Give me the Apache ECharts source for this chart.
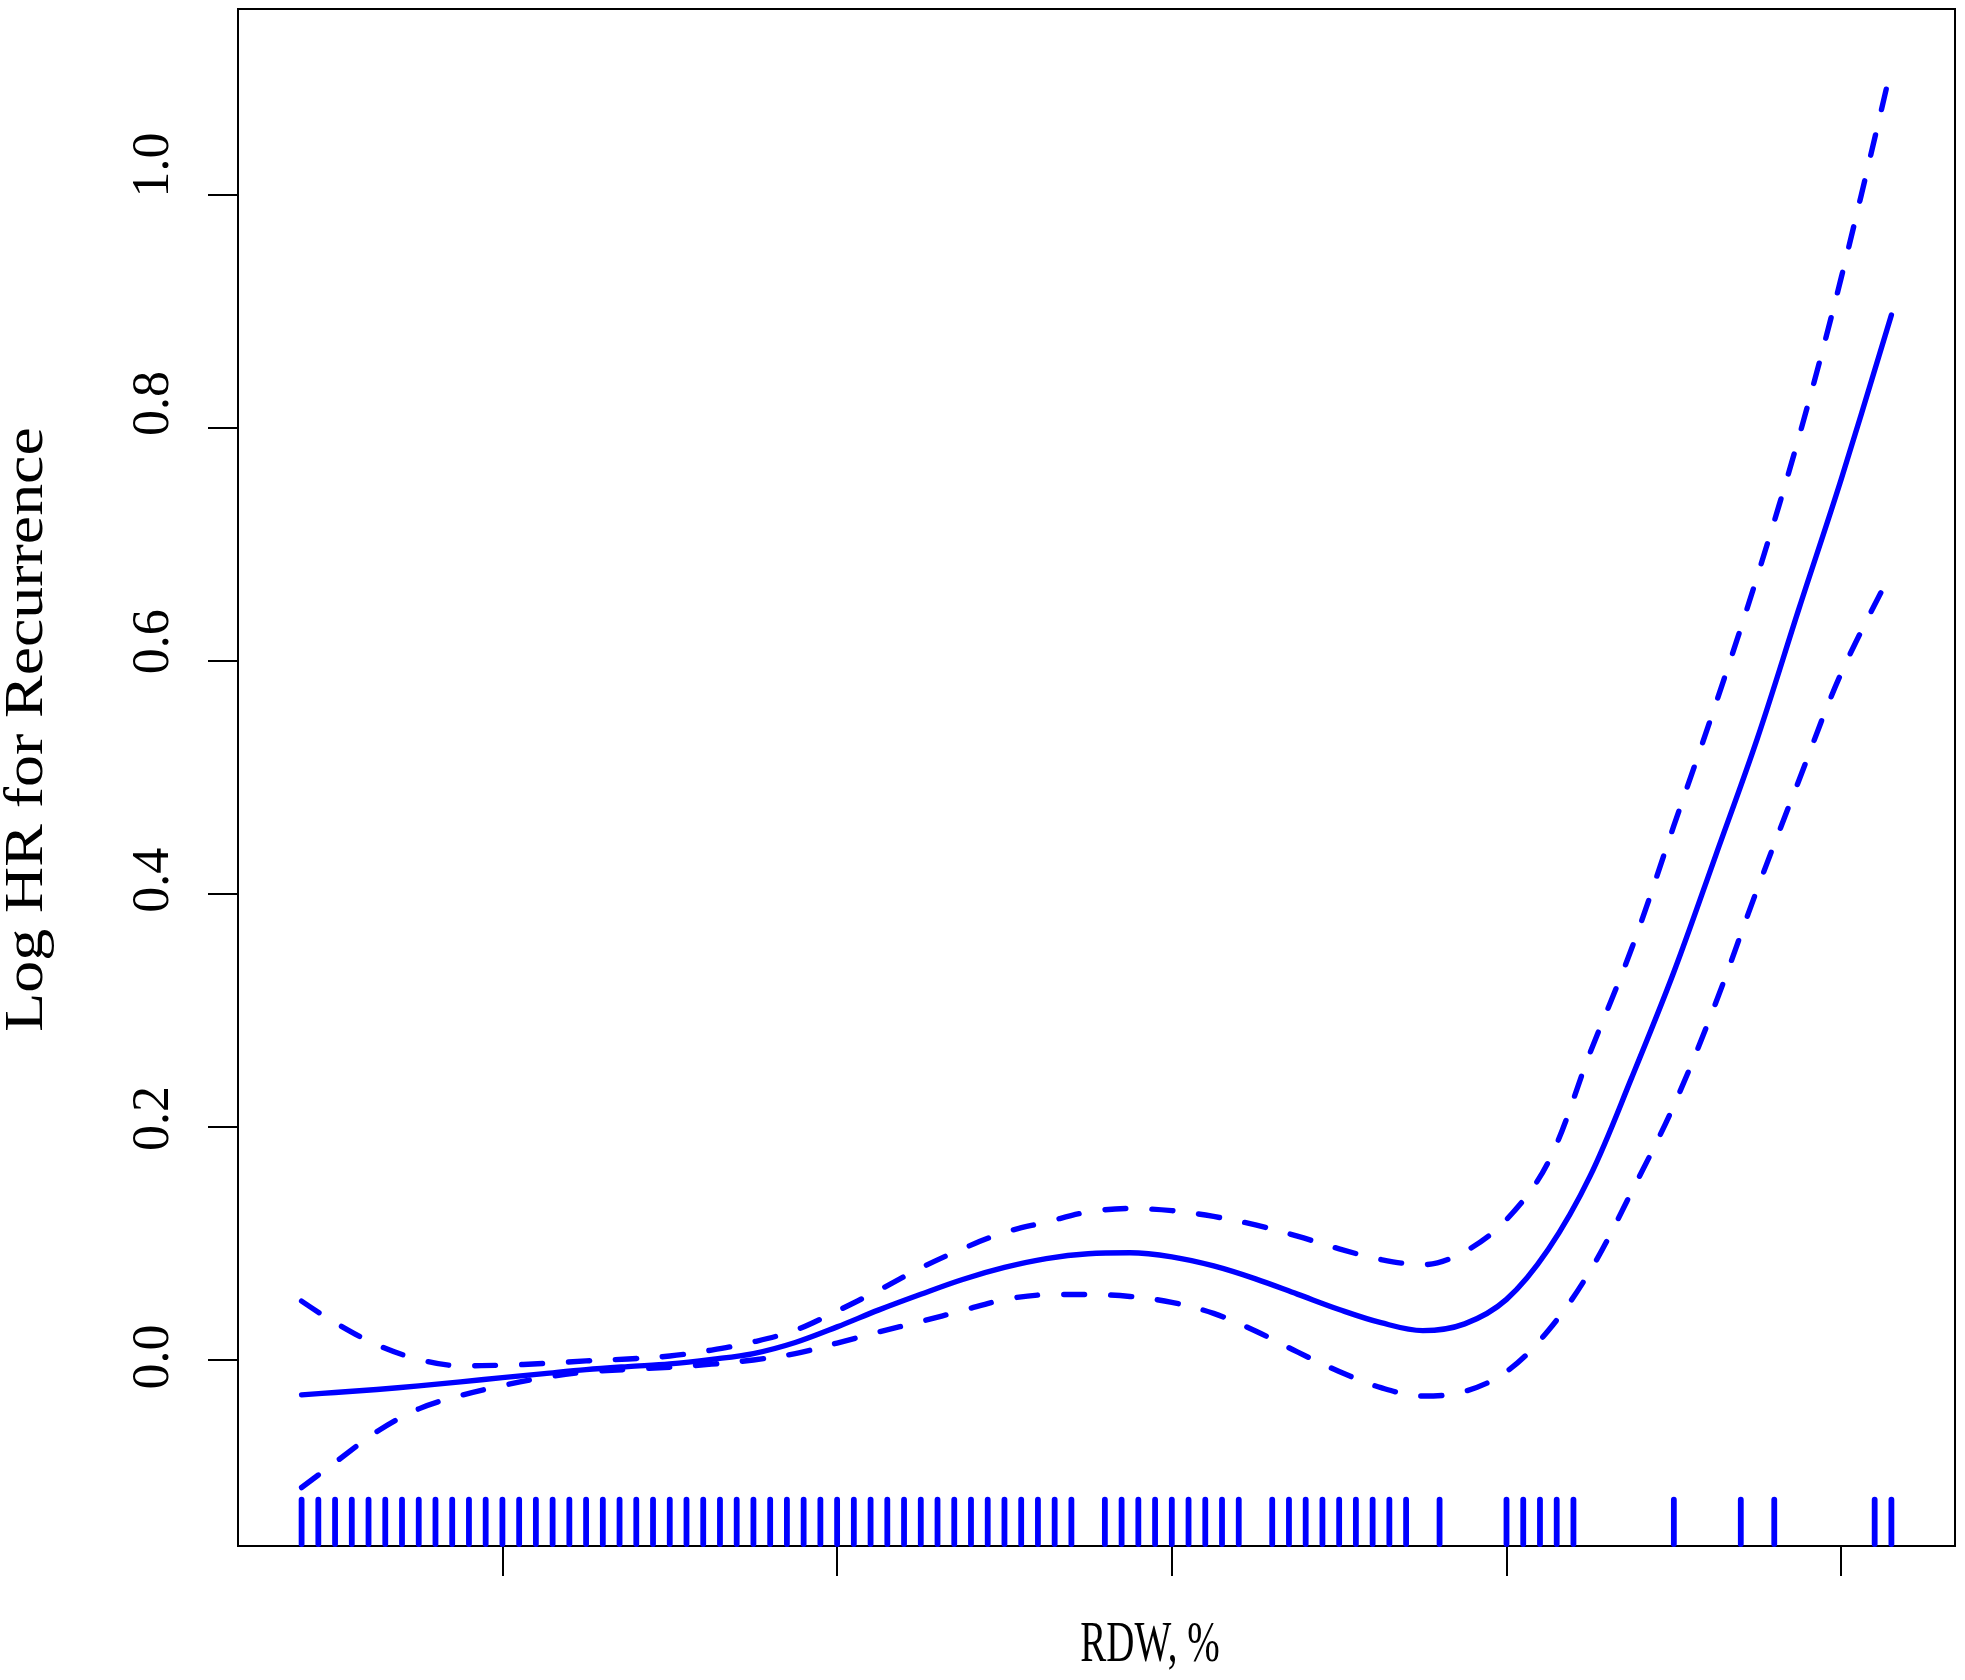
<!DOCTYPE html>
<html>
<head>
<meta charset="utf-8">
<script src="https://cdn.jsdelivr.net/npm/echarts@6/dist/echarts.min.js"></script>
<style>
html,body{margin:0;padding:0;background:#fff;}
#chart{width:1965px;height:1680px;}
</style>
</head>
<body>
<div id="chart"></div>
<script>
// ---- data ----
const rdwGrid = [10.8, 11.0, 11.25, 11.5, 11.75, 12.0, 12.25, 12.5, 12.75, 13.0, 13.25, 13.5, 13.75, 14.0, 14.25, 14.5, 14.75, 15.0, 15.25, 15.5, 15.75, 16.0, 16.25, 16.5, 16.75, 17.0, 17.25, 17.5, 17.75, 18.0, 18.25, 18.5, 18.75, 19.0, 19.25, 19.5, 19.75, 20.0, 20.3];
const logHrFit = [-0.030, -0.0279, -0.0253, -0.0222, -0.0188, -0.0152, -0.0117, -0.0083, -0.0057, -0.0034, 0.0005, 0.0055, 0.0150, 0.0284, 0.0430, 0.0564, 0.0691, 0.0794, 0.0870, 0.0912, 0.0920, 0.0885, 0.0807, 0.0696, 0.0565, 0.0433, 0.0320, 0.0252, 0.0310, 0.0520, 0.0950, 0.1580, 0.2430, 0.3330, 0.4330, 0.5340, 0.6460, 0.7560, 0.8970];
const logHrUpper = [0.0505, 0.0320, 0.0130, 0.0005, -0.0050, -0.0045, -0.0030, -0.0008, 0.0008, 0.0034, 0.0085, 0.0155, 0.0255, 0.0420, 0.0600, 0.0790, 0.0955, 0.1095, 0.1184, 0.1270, 0.1300, 0.1282, 0.1232, 0.1159, 0.1063, 0.0954, 0.0862, 0.0818, 0.0930, 0.1205, 0.1700, 0.2640, 0.3540, 0.4586, 0.5630, 0.6734, 0.7936, 0.9290, 1.1100];
const logHrLower = [-0.1095, -0.0880, -0.0615, -0.0420, -0.0305, -0.0220, -0.0150, -0.0104, -0.0081, -0.0062, -0.0036, 0.0000, 0.0055, 0.0145, 0.0241, 0.0330, 0.0425, 0.0518, 0.0560, 0.0562, 0.0545, 0.0495, 0.0400, 0.0249, 0.0069, -0.0099, -0.0238, -0.0310, -0.0270, -0.0100, 0.0253, 0.0765, 0.1450, 0.2185, 0.3064, 0.4048, 0.4985, 0.5896, 0.6760];
const rugValues = [10.8, 10.9, 11.0, 11.1, 11.2, 11.3, 11.4, 11.5, 11.6, 11.7, 11.8, 11.9, 12.0, 12.1, 12.2, 12.3, 12.4, 12.5, 12.6, 12.7, 12.8, 12.9, 13.0, 13.1, 13.2, 13.3, 13.4, 13.5, 13.6, 13.7, 13.8, 13.9, 14.0, 14.1, 14.2, 14.3, 14.4, 14.5, 14.6, 14.7, 14.8, 14.9, 15.0, 15.1, 15.2, 15.3, 15.4,
  15.6, 15.7, 15.8, 15.9, 16.0, 16.1, 16.2, 16.3, 16.4,
  16.6, 16.7, 16.8, 16.9, 17.0, 17.1, 17.2, 17.3, 17.4,
  17.6, 18.0, 18.1, 18.2, 18.3, 18.4, 19.0, 19.4, 19.6, 20.2, 20.3];
const xTickValues = [12, 14, 16, 18, 20];
const yTickValues = [0.0, 0.2, 0.4, 0.6, 0.8, 1.0];
const xTitle = 'RDW, %';
const yTitle = 'Log HR for Recurrence';

// ---- axis extents (R style 4% padding) ----
const X_MIN = 10.42, X_MAX = 20.68;
const Y_MIN = -0.1597, Y_MAX = 1.1597;
const RUG_TOP = -0.120;

const BLUE = '#0000ff';
const FONT = 'Liberation Serif';
const LW = 5.4;

// per-label shift along the axis (style only)
const rich = {};
yTickValues.forEach(v => {
  const shift = 3 + 27 * v;
  rich['s' + Math.round(v * 10)] = {
    fontFamily: FONT, fontSize: 52, color: '#000',
    padding: [0, 0, 0, 2 * shift]
  };
});

const chart = echarts.init(document.getElementById('chart'), null, {renderer: 'canvas'});

const pairs = arr => rdwGrid.map((x, i) => [x, arr[i]]);

const option = {
  animation: false,
  backgroundColor: '#ffffff',
  grid: {
    left: 238, right: 10, top: 9, bottom: 134,
    show: true, borderColor: '#000', borderWidth: 2, backgroundColor: 'transparent'
  },
  xAxis: {
    type: 'value', min: X_MIN, max: X_MAX, position: 'bottom',
    axisLine: {show: false, onZero: false},
    splitLine: {show: false},
    axisTick: {show: true, length: 30, lineStyle: {color: '#000', width: 2}, customValues: xTickValues},
    axisLabel: {show: false}
  },
  yAxis: {
    type: 'value', min: Y_MIN, max: Y_MAX, position: 'left',
    axisLine: {show: false, onZero: false},
    splitLine: {show: false},
    axisTick: {show: true, length: 30, lineStyle: {color: '#000', width: 2}, customValues: yTickValues},
    axisLabel: {
      show: true, rotate: 90, margin: 58,
      customValues: yTickValues,
      fontFamily: FONT, fontSize: 52, color: '#000',
      formatter: v => '{s' + Math.round(v * 10) + '|' + v.toFixed(1) + '}',
      rich: rich
    }
  },
  graphic: [
    {
      type: 'text', x: 27.5, y: 729.5, rotation: Math.PI / 2, scaleX: 1.12, scaleY: 0.97,
      style: {text: yTitle, fontFamily: FONT, fontSize: 57, fill: '#000', align: 'center', verticalAlign: 'middle'}
    },
    {
      type: 'text', x: 1150, y: 1646, scaleX: 0.684, scaleY: 1,
      style: {text: xTitle, fontFamily: FONT, fontSize: 57, fill: '#000', align: 'center', verticalAlign: 'middle'}
    }
  ],
  series: [
    {
      type: 'custom',
      name: 'rug',
      coordinateSystem: 'cartesian2d',
      encode: {x: 0, y: 1},
      data: rugValues.map(v => [v, RUG_TOP]),
      clip: false,
      renderItem: (params, api) => {
        const x = api.value(0);
        const p0 = api.coord([x, Y_MIN]);
        const p1 = api.coord([x, RUG_TOP]);
        return {
          type: 'line',
          shape: {x1: p0[0], y1: p0[1] - 2, x2: p1[0], y2: p1[1]},
          style: {stroke: BLUE, lineWidth: 5.8, lineCap: 'round'}
        };
      },
      z: 3
    },
    {
      type: 'line', name: 'fit', data: pairs(logHrFit), showSymbol: false, symbol: 'none',
      smooth: 0.35,
      lineStyle: {color: BLUE, width: LW, type: 'solid', cap: 'round', join: 'round'}, z: 4
    },
    {
      type: 'line', name: 'upper', data: pairs(logHrUpper), showSymbol: false, symbol: 'none',
      smooth: 0.35,
      lineStyle: {color: BLUE, width: LW, type: [21, 26], cap: 'round', join: 'round'}, z: 4
    },
    {
      type: 'line', name: 'lower', data: pairs(logHrLower), showSymbol: false, symbol: 'none',
      smooth: 0.35,
      lineStyle: {color: BLUE, width: LW, type: [21, 26], cap: 'round', join: 'round'}, z: 4
    }
  ]
};
chart.setOption(option);
</script>
</body>
</html>
